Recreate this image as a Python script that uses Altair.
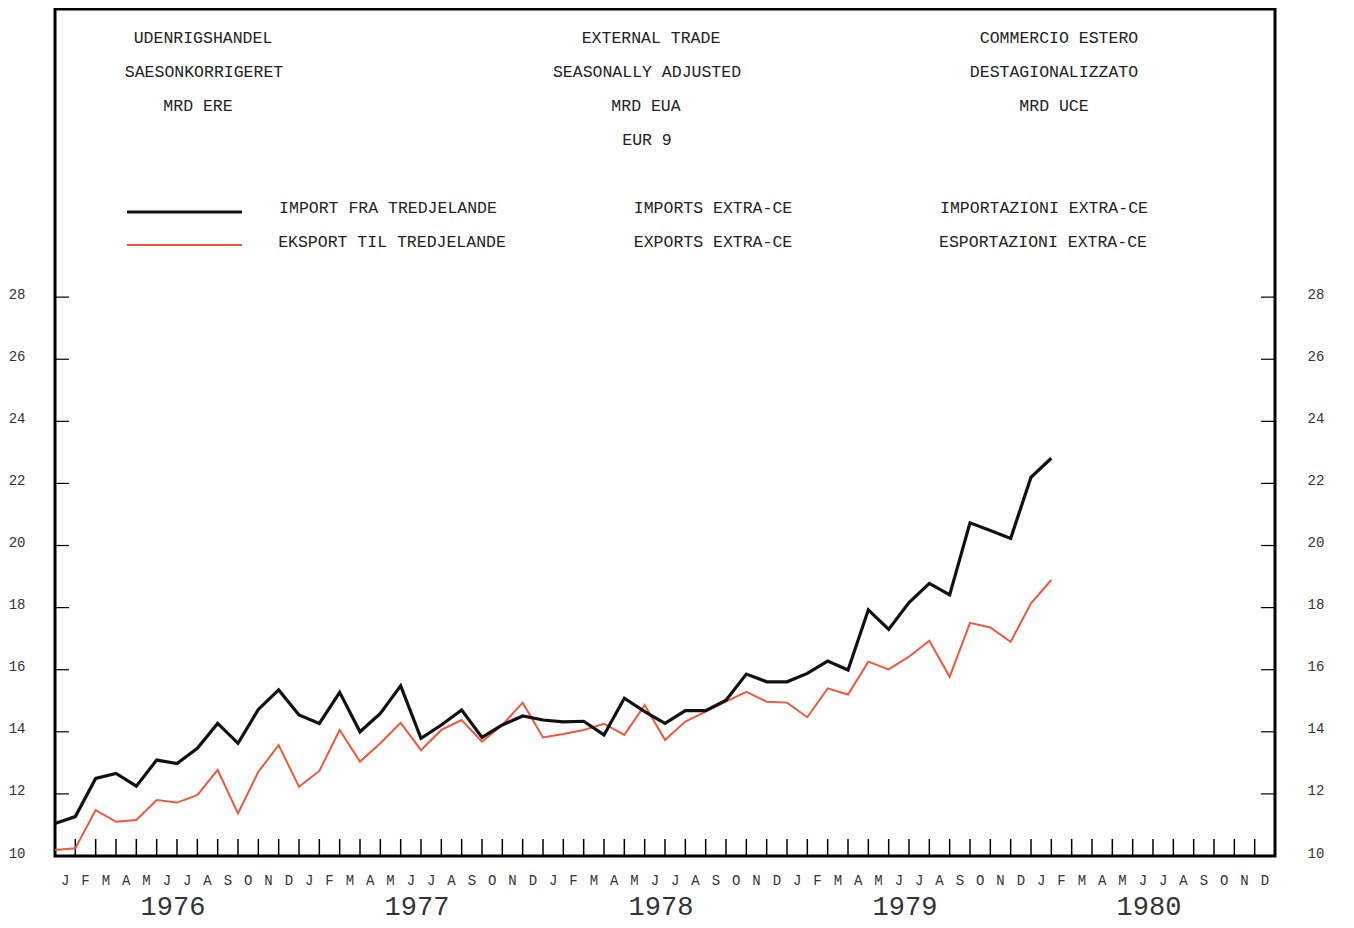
import altair as alt
import pandas as pd

# ---- data -------------------------------------------------------------
month_letters = ["J", "F", "M", "A", "M", "J", "J", "A", "S", "O", "N", "D"]
years = ["1976", "1977", "1978", "1979", "1980"]
y_ticks = [10, 12, 14, 16, 18, 20, 22, 24, 26, 28]

# Imports from third countries (bn EUA, seasonally adjusted), monthly
import_vals = [11.05, 11.27, 12.50, 12.66, 12.25, 13.09, 12.98, 13.47, 14.27, 13.63,
               14.72, 15.35, 14.54, 14.27, 15.27, 14.00, 14.59, 15.48, 13.79, 14.22,
               14.70, 13.82, 14.22, 14.51, 14.38, 14.32, 14.34, 13.90, 15.08, 14.65,
               14.27, 14.68, 14.68, 15.02, 15.86, 15.61, 15.61, 15.88, 16.28, 15.99,
               17.93, 17.30, 18.16, 18.78, 18.41, 20.73, 20.48, 20.23, 22.20, 22.81]
# Exports to third countries
export_vals = [10.19, 10.25, 11.48, 11.10, 11.16, 11.80, 11.72, 11.96, 12.77, 11.37,
               12.71, 13.57, 12.23, 12.74, 14.06, 13.04, 13.63, 14.29, 13.41, 14.06,
               14.38, 13.68, 14.22, 14.94, 13.82, 13.93, 14.06, 14.26, 13.90, 14.86,
               13.74, 14.33, 14.65, 14.97, 15.29, 14.97, 14.94, 14.47, 15.40, 15.20,
               16.26, 16.01, 16.42, 16.93, 15.77, 17.51, 17.36, 16.90, 18.14, 18.89]

header_texts = [
    ("UDENRIGSHANDEL", 148, 29), ("SAESONKORRIGERET", 149, 63), ("MRD ERE", 143, 97),
    ("EXTERNAL TRADE", 596, 29), ("SEASONALLY ADJUSTED", 592, 63), ("MRD EUA", 591, 97),
    ("EUR 9", 592, 131),
    ("COMMERCIO ESTERO", 1004, 29), ("DESTAGIONALIZZATO", 999, 63), ("MRD UCE", 999, 97),
    ("IMPORT FRA TREDJELANDE", 333, 199), ("EKSPORT TIL TREDJELANDE", 337, 233),
    ("IMPORTS EXTRA-CE", 658, 199), ("EXPORTS EXTRA-CE", 658, 233),
    ("IMPORTAZIONI EXTRA-CE", 989, 199), ("ESPORTAZIONI EXTRA-CE", 988, 233),
]

# ---- tables -----------------------------------------------------------
n_months = len(years) * 12
df_imp = pd.DataFrame({"m": list(range(len(import_vals))), "v": import_vals})
df_exp = pd.DataFrame({"m": list(range(len(export_vals))), "v": export_vals})
df_months = pd.DataFrame({"pos": [i + 0.5 for i in range(n_months)],
                          "lab": [month_letters[i % 12] for i in range(n_months)]})
df_years = pd.DataFrame({"pos": [12 * k + 6 for k in range(len(years))], "lab": years})
df_xticks = pd.DataFrame({"b": list(range(1, n_months))})
df_yticks = pd.DataFrame({"v": y_ticks[1:]})

W, H = 1220, 847
FONT = "Liberation Mono"
xs = alt.Scale(domain=[0, n_months], nice=False, zero=False)
ys = alt.Scale(domain=[10, 37.28], nice=False, zero=False)

left_axis = alt.Axis(orient="left", values=y_ticks, ticks=False, domain=False, grid=False,
                     labelPadding=30, labelFont=FONT, labelFontSize=14, labelColor="#333",
                     labelOffset=-3, title=None)
right_axis = alt.Axis(orient="right", values=y_ticks, ticks=False, domain=False, grid=False,
                      labelPadding=32, labelFont=FONT, labelFontSize=14, labelColor="#333",
                      labelOffset=-3, title=None)

imp_line = alt.Chart(df_imp).mark_line(color="#111111", strokeWidth=3.2).encode(
    x=alt.X("m:Q", scale=xs, axis=None),
    y=alt.Y("v:Q", scale=ys, axis=left_axis),
)
exp_line = alt.Chart(df_exp).mark_line(color="#f0583c", strokeWidth=2).encode(
    x=alt.X("m:Q", scale=xs, axis=None),
    y=alt.Y("v:Q", scale=ys, axis=right_axis),
)

xticks = alt.Chart(df_xticks).mark_rule(color="black", strokeWidth=1.5).encode(
    x=alt.X("b:Q", scale=xs, axis=None), y=alt.value(H - 17), y2=alt.value(H))
yticks_l = alt.Chart(df_yticks).mark_rule(color="black", strokeWidth=1.2).encode(
    y=alt.Y("v:Q", scale=ys, axis=None), x=alt.value(0), x2=alt.value(14))
yticks_r = alt.Chart(df_yticks).mark_rule(color="black", strokeWidth=1.2).encode(
    y=alt.Y("v:Q", scale=ys, axis=None), x=alt.value(W - 14), x2=alt.value(W))

months_txt = alt.Chart(df_months).mark_text(font=FONT, fontSize=14, color="#333",
                                            baseline="middle").encode(
    x=alt.X("pos:Q", scale=xs, axis=None), y=alt.value(H + 25), text="lab:N")
years_txt = alt.Chart(df_years).mark_text(font=FONT, fontSize=27, color="#333",
                                          baseline="middle", dx=-4).encode(
    x=alt.X("pos:Q", scale=xs, axis=None), y=alt.value(H + 51), text="lab:N")

legend_imp = alt.Chart(pd.DataFrame({"k": [0]})).mark_rule(color="#111111", strokeWidth=3).encode(
    x=alt.value(72), x2=alt.value(187), y=alt.value(203))
legend_exp = alt.Chart(pd.DataFrame({"k": [0]})).mark_rule(color="#f0583c", strokeWidth=2).encode(
    x=alt.value(72), x2=alt.value(187), y=alt.value(236))

text_layers = []
for txt, px, py in header_texts:
    text_layers.append(
        alt.Chart(pd.DataFrame({"t": [txt]})).mark_text(
            font=FONT, fontSize=16.5, color="#222", baseline="middle", align="center"
        ).encode(text="t:N", x=alt.value(px), y=alt.value(py))
    )

chart = alt.layer(
    xticks, yticks_l, yticks_r, months_txt, years_txt, legend_imp, legend_exp,
    *text_layers, exp_line, imp_line,
).resolve_axis(y="independent").properties(
    width=W, height=H,
    padding={"left": 47, "top": 1, "right": 60, "bottom": 71},
    autosize=alt.AutoSizeParams(type="none"),
    background="white",
).configure_view(stroke="black", strokeWidth=3)

chart.save("out.html", embed_options={"renderer": "svg", "actions": False})
